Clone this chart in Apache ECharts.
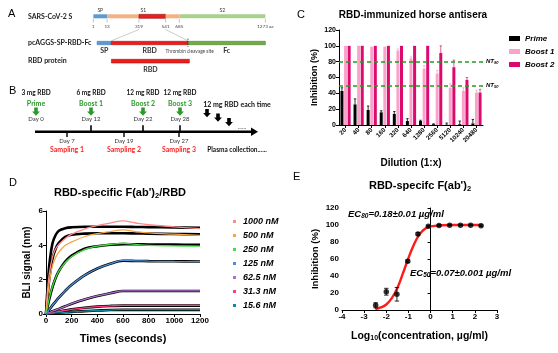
<!DOCTYPE html>
<html>
<head>
<meta charset="utf-8">
<script src="https://cdn.jsdelivr.net/npm/echarts@6/dist/echarts.min.js"></script>
<style>
  html, body { margin: 0; padding: 0; background: #fff; }
  #chart { width: 558px; height: 353px; }
</style>
</head>
<body>
<div id="chart"></div>
<script>
// ---------- Panel A: construct map (schematic units, whole spike = 0..100)
const spikeDomains = ['SP', 'S1', 'RBD', 'S1', 'S2'];
const spikeBounds = [0, 8, 26.5, 42, 50, 100];
const spikeTickLabels = ['1', '13', '319', '541', '685', '1273 aa'];
const spikeTopLabels = [['SP', 0, 8], ['S1', 8, 50], ['S2', 50, 100]];
const constructDomains = ['SP', 'RBD', 'Fc'];
const constructBounds = [2.2, 10.5, 55, 100];
const thrombinSite = 55;
const rbdProtein = [10.5, 55.8];

// ---------- Panel B: immunisation timeline (schematic timeline units)
const boostDoses = ['3 mg RBD', '6 mg RBD', '12 mg RBD', '12 mg RBD'];
const boostNames = ['Prime', 'Boost 1', 'Boost 2', 'Boost 3'];
const boostDays = ['Day 0', 'Day 12', 'Day 22', 'Day 28'];
const boostPos = [36, 91, 143, 180];
const samplingNames = ['Sampling 1', 'Sampling 2', 'Sampling 3'];
const samplingDays = ['Day 7', 'Day 19', 'Day 27'];
const samplingPos = [67, 124, 179];
const extraDosePos = [207, 218, 229];
const timelineSpan = [35, 258];

// ---------- Panel C: neutralisation by dilution
const dilutions = ['20', '40', '80', '160', '320', '640', '1280', '2560', '5120', '10240', '20480'];
const prime = [43, 26, 19, 16, 14, 5, 5, 1, 0.5, 1, 2];
const primeErr = [4, 7, 5, 2, 3, 3, 1, 0.5, 2, 4, 5];
const boost1 = [100, 100, 99, 99, 94, 84, 71, 65, 47, 43, 41];
const boost1Err = [0, 0, 0, 0, 2, 2, 4, 4, 5, 4, 3];
const boost2 = [100, 100, 100, 100, 100, 100, 100, 91, 73, 57, 41];
const boost2Err = [0, 0, 0, 0, 0, 0, 0, 9, 9, 3, 4];
const ntLevels = [80, 50];

// ---------- Panel D: BLI sensorgrams
const bliTimes = [0, 10, 25, 50, 75, 100, 150, 200, 300, 400, 500, 600, 700, 800, 1000, 1200];
const bliConcs = ['1000 nM', '500 nM', '250 nM', '125 nM', '62.5 nM', '31.3 nM', '15.6 nM'];
const bliMeasured = [
  [0, 1.2, 2.3, 3.3, 3.8, 4.05, 4.4, 4.65, 4.95, 5.15, 5.3, 5.42, 5.3, 5.2, 5.08, 4.97],
  [0, 0.8, 1.8, 2.8, 3.3, 3.6, 4.0, 4.2, 4.5, 4.68, 4.8, 4.9, 4.8, 4.72, 4.65, 4.58],
  [0, 0.35, 0.9, 1.6, 2.1, 2.5, 3.0, 3.35, 3.75, 3.95, 4.05, 4.12, 4.05, 4.0, 3.97, 3.95],
  [0, 0.1, 0.25, 0.5, 0.72, 0.95, 1.35, 1.7, 2.25, 2.65, 2.92, 3.12, 3.1, 3.08, 3.06, 3.05],
  [0, 0.03, 0.08, 0.16, 0.23, 0.3, 0.45, 0.6, 0.85, 1.05, 1.21, 1.35, 1.35, 1.35, 1.35, 1.35],
  [0, 0.02, 0.04, 0.07, 0.11, 0.15, 0.21, 0.27, 0.36, 0.43, 0.47, 0.5, 0.5, 0.5, 0.5, 0.5],
  [0, 0.01, 0.02, 0.04, 0.06, 0.07, 0.1, 0.12, 0.17, 0.2, 0.23, 0.25, 0.25, 0.25, 0.25, 0.25]
];
const bliFit = [
  [0, 1.3, 2.8, 4.1, 4.6, 4.85, 5.0, 5.05, 5.08, 5.08, 5.08, 5.08, 5.07, 5.06, 5.04, 5.02],
  [0, 0.9, 2.0, 3.2, 3.8, 4.15, 4.5, 4.62, 4.68, 4.7, 4.7, 4.7, 4.69, 4.68, 4.66, 4.64],
  [0, 0.35, 0.85, 1.55, 2.1, 2.5, 3.05, 3.4, 3.8, 3.95, 4.03, 4.07, 4.06, 4.05, 4.04, 4.03],
  [0, 0.1, 0.25, 0.5, 0.73, 0.95, 1.35, 1.7, 2.25, 2.65, 2.93, 3.1, 3.09, 3.08, 3.07, 3.06],
  [0, 0.03, 0.08, 0.16, 0.23, 0.3, 0.45, 0.6, 0.85, 1.05, 1.21, 1.34, 1.34, 1.34, 1.34, 1.34],
  [0, 0.02, 0.04, 0.07, 0.11, 0.15, 0.21, 0.27, 0.36, 0.43, 0.47, 0.49, 0.49, 0.49, 0.49, 0.49],
  [0, 0.01, 0.02, 0.04, 0.06, 0.07, 0.1, 0.12, 0.17, 0.2, 0.23, 0.24, 0.24, 0.24, 0.24, 0.24]
];

// ---------- Panel E: dose response
const eLogConc = [-2.48, -2.0, -1.52, -1.03, -0.57, -0.1, 0.38, 0.86, 1.35, 1.81, 2.28];
const eInhib = [5.5, 21.5, 18.5, 57.5, 89.5, 98.5, 99.5, 99.8, 99.8, 99.8, 99.2];
const eErr = [3, 4, 8, 1.5, 1.5, 1, 0.8, 0.5, 0.5, 0.5, 0.8];
const eFitX = [-2.5, -2.25, -2.0, -1.75, -1.5, -1.25, -1.0, -0.75, -0.5, -0.25, 0, 0.5, 1, 1.5, 2, 2.3];
const eFitY = [1, 3, 6.5, 14, 26, 43, 61, 77, 89, 95.5, 98.3, 99.7, 100, 100, 100, 100];

// ---------- styles
const F = '"Liberation Sans", Arial, Helvetica, sans-serif';
const FC = 'Lato, "Open Sans", "Liberation Sans", sans-serif';
const domainColor = { SP: '#5b9bd5', S1: '#f4b183', RBD: '#ee1c1c', S2: '#a9d18e', Fc: '#70ad47' };
const bliColors = ['#ff8a8a', '#f7a447', '#3fe03f', '#4a8fd8', '#b36fd6', '#ff3d86', '#13879b'];
const GREEN = '#2a9a2a', RED = '#ff2222';
const BAR_W = 3, BAR_STEP = 3.6;

function kit(api) {
  const c = (x, y) => api.coord([x, y]);
  return {
    rect(x0, x1, y0, y1, fill, stroke) {
      const a = c(x0, y0), b = c(x1, y1);
      return { type: 'rect', shape: { x: a[0], y: a[1], width: b[0] - a[0], height: b[1] - a[1] },
        style: { fill, stroke: stroke || null, lineWidth: 0.6 } };
    },
    line(x0, y0, x1, y1, stroke, w, dash) {
      const a = c(x0, y0), b = c(x1, y1);
      return { type: 'line', shape: { x1: a[0], y1: a[1], x2: b[0], y2: b[1] },
        style: { stroke, lineWidth: w || 0.6, lineDash: dash || null } };
    },
    text(x, y, text, font, fill, align) {
      const a = c(x, y);
      return { type: 'text', x: a[0], y: a[1],
        style: { text, font, fill: fill || '#222', textAlign: align || 'center', textVerticalAlign: 'middle' } };
    },
    arrow(x, y, fill) {
      const p = c(x, y), cx = p[0], cy = p[1];
      return { type: 'polygon', style: { fill },
        shape: { points: [[cx - 1.8, cy - 4], [cx + 1.8, cy - 4], [cx + 1.8, cy], [cx + 3.9, cy], [cx, cy + 4.2], [cx - 3.9, cy], [cx - 1.8, cy]] } };
    },
    poly(pts, fill) {
      return { type: 'polygon', style: { fill }, shape: { points: pts.map(p => c(p[0], p[1])) } };
    }
  };
}

function renderPanelA(params, api) {
  const k = kit(api), ch = [];
  const rowFont = 'bold 7px ' + FC;
  // full-length spike
  for (let i = 0; i < spikeDomains.length; i++) {
    const d = spikeDomains[i];
    ch.push(k.rect(spikeBounds[i], spikeBounds[i + 1], 14.3, 18.3, domainColor[d], d === 'RBD' ? '#8a1c1c' : null));
  }
  spikeTopLabels.forEach(l => ch.push(k.text((l[1] + l[2]) / 2, 10.5, l[0], '5px ' + FC, '#333')));
  spikeBounds.forEach((b, i) => {
    ch.push(k.line(b, 19, b, 22.5, '#888', 0.5));
    ch.push(k.text(b, 26.8, spikeTickLabels[i], '4.6px ' + FC, '#444'));
  });
  // projection of RBD onto construct
  ch.push(k.line(spikeBounds[2], 29.5, constructBounds[1], 40.8, '#aaa', 0.6));
  ch.push(k.line(spikeBounds[3], 29.5, constructBounds[2], 40.8, '#aaa', 0.6));
  // construct
  for (let i = 0; i < constructDomains.length; i++) {
    const d = constructDomains[i];
    ch.push(k.rect(constructBounds[i], constructBounds[i + 1], 41.3, 44.7, domainColor[d],
      d === 'Fc' ? '#4f7f33' : d === 'SP' ? '#3f78ad' : '#a01515'));
    ch.push(k.text((constructBounds[i] + constructBounds[i + 1]) / 2, 50.5, d, 'bold 7px ' + FC, '#333'));
  }
  ch.push(k.line(thrombinSite, 38.5, thrombinSite, 47, '#222', 0.7, [1.5, 1]));
  ch.push(k.text(thrombinSite + 1, 51.2, 'Thrombin cleavage site', '4.8px ' + FC, '#444'));
  // purified RBD protein
  ch.push(k.rect(rbdProtein[0], rbdProtein[1], 59.3, 63, domainColor.RBD, '#a01515'));
  ch.push(k.text((rbdProtein[0] + rbdProtein[1]) / 2, 70, 'RBD', 'bold 7px ' + FC, '#333'));
  // row names
  ch.push(k.text(-38, 16.5, 'SARS-CoV-2 S', rowFont, '#222', 'left'));
  ch.push(k.text(-38, 42.5, 'pcAGGS-SP-RBD-Fc', rowFont, '#222', 'left'));
  ch.push(k.text(-38, 61, 'RBD protein', rowFont, '#222', 'left'));
  return { type: 'group', children: ch };
}

function renderPanelB(params, api) {
  const k = kit(api), ch = [];
  const yLine = 46.7;
  ch.push(k.line(timelineSpan[0], yLine, timelineSpan[1] - 6, yLine, '#000', 2.6));
  ch.push(k.poly([[timelineSpan[1] - 7, yLine - 4.3], [timelineSpan[1], yLine], [timelineSpan[1] - 7, yLine + 4.3]], '#000'));
  boostPos.forEach((x, i) => {
    ch.push(k.text(x, 8.3, boostDoses[i], 'bold 6.5px ' + FC, '#111'));
    ch.push(k.text(x, 19, boostNames[i], 'bold 7px ' + FC, GREEN));
    ch.push(k.arrow(x, 26.5, GREEN));
    ch.push(k.text(x, 34.3, boostDays[i], '6px ' + FC, '#333'));
    if (i > 0) ch.push(k.line(x, 40.3, x, yLine, '#000', 1.6));
  });
  samplingPos.forEach((x, i) => {
    ch.push(k.line(x, yLine, x, 52, '#000', 1.4));
    ch.push(k.text(x, 56.5, samplingDays[i], '6px ' + FC, '#333'));
    ch.push(k.text(x, 65, samplingNames[i], 'bold 7px ' + FC, RED));
  });
  ch.push(k.text(237, 20, '12 mg RBD each time', 'bold 7px ' + FC, '#111'));
  extraDosePos.forEach((x, i) => ch.push(k.arrow(x, 28 + i * 4.5, '#000')));
  ch.push(k.text(242, 42, '......', 'bold 6px ' + FC, '#666'));
  ch.push(k.text(237, 65, 'Plasma collection......', 'bold 6.5px ' + FC, '#111'));
  return { type: 'group', children: ch };
}

function renderErrC(params, api) {
  const i = api.value(0), v = api.value(1), e = api.value(2), s = api.value(3);
  if (!e) return null;
  const off = (s - 1) * BAR_STEP;
  const a = api.coord([i, v]), b = api.coord([i, v + e]);
  const x = a[0] + off;
  const col = ['#000', '#f5a6cc', '#e0307f'][s];
  return { type: 'group', children: [
    { type: 'line', shape: { x1: x, y1: a[1], x2: x, y2: b[1] }, style: { stroke: col, lineWidth: 0.8 } },
    { type: 'line', shape: { x1: x - 1.2, y1: b[1], x2: x + 1.2, y2: b[1] }, style: { stroke: col, lineWidth: 0.8 } }
  ] };
}

function renderErrE(params, api) {
  const x = api.value(0), v = api.value(1), e = api.value(2);
  const lo = api.coord([x, v - e]), hi = api.coord([x, v + e]);
  const st = { stroke: '#111', lineWidth: 0.9 };
  return { type: 'group', children: [
    { type: 'line', shape: { x1: lo[0], y1: lo[1], x2: hi[0], y2: hi[1] }, style: st },
    { type: 'line', shape: { x1: lo[0] - 2.2, y1: lo[1], x2: lo[0] + 2.2, y2: lo[1] }, style: st },
    { type: 'line', shape: { x1: hi[0] - 2.2, y1: hi[1], x2: hi[0] + 2.2, y2: hi[1] }, style: st }
  ] };
}

const axisLbl = (size) => ({ color: '#000', fontFamily: F, fontWeight: 'bold', fontSize: size, margin: 3 });
const axLine = { show: true, lineStyle: { color: '#000', width: 1 } };
const axTick = { show: true, length: 3, lineStyle: { color: '#000', width: 1 } };
const hidden = { show: false };

const chart = echarts.init(document.getElementById('chart'), null, { renderer: 'canvas' });

const subRich = (big, small) => ({
  b: { fontFamily: F, fontWeight: 'bold', fontSize: big, color: '#000' },
  s: { fontFamily: F, fontWeight: 'bold', fontSize: small, color: '#000', padding: [Math.round(big * 0.45), 0, 0, 0] }
});

const ntRich = {
  a: { fontFamily: F, fontWeight: 'bold', fontStyle: 'italic', fontSize: 6, color: '#000' },
  b: { fontFamily: F, fontWeight: 'bold', fontStyle: 'italic', fontSize: 4, color: '#000', padding: [3, 0, 0, 0] }
};

const ecRich = {
  a: { fontFamily: F, fontWeight: 'bold', fontStyle: 'italic', fontSize: 9.5, color: '#000' },
  b: { fontFamily: F, fontWeight: 'bold', fontStyle: 'italic', fontSize: 6.5, color: '#000', padding: [4, 0, 0, 0] }
};

const option = {
  animation: false,
  backgroundColor: '#fff',
  grid: [
    { left: 28, top: 0, width: 258, height: 80, outerBoundsMode: 'none' },
    { left: 0, top: 85, width: 290, height: 75, outerBoundsMode: 'none' },
    { left: 339, top: 30, width: 144, height: 95, outerBoundsMode: 'none' },
    { left: 46, top: 211, width: 154, height: 103, outerBoundsMode: 'none' },
    { left: 342, top: 208, width: 155, height: 102, outerBoundsMode: 'none' }
  ],
  xAxis: [
    { gridIndex: 0, type: 'value', min: -38, max: 112, ...hidden },
    { gridIndex: 1, type: 'value', min: 0, max: 290, ...hidden },
    {
      gridIndex: 2, type: 'category', data: dilutions,
      axisLine: axLine, axisTick: { ...axTick, alignWithLabel: true },
      axisLabel: { ...axisLbl(6.3), rotate: 45, interval: 0, margin: 4 },
      name: 'Dilution (1:x)', nameLocation: 'middle', nameGap: 33,
      nameTextStyle: { fontFamily: F, fontWeight: 'bold', fontSize: 10, color: '#000' }
    },
    {
      gridIndex: 3, type: 'value', min: 0, max: 1200, interval: 200,
      axisLine: axLine, axisTick: axTick, splitLine: hidden,
      axisLabel: { ...axisLbl(8), formatter: v => String(v) },
      name: 'Times (seconds)', nameLocation: 'middle', nameGap: 19,
      nameTextStyle: { fontFamily: F, fontWeight: 'bold', fontSize: 11, color: '#000' }
    },
    {
      gridIndex: 4, type: 'value', min: -4, max: 3, interval: 1,
      axisLine: axLine, axisTick: axTick, splitLine: hidden, axisLabel: axisLbl(8),
      name: '{b|Log}{s|10}{b|(concentration, µg/ml)}', nameLocation: 'middle', nameGap: 20,
      nameTextStyle: { rich: subRich(10.5, 7) }
    }
  ],
  yAxis: [
    { gridIndex: 0, type: 'value', min: 0, max: 80, inverse: true, ...hidden },
    { gridIndex: 1, type: 'value', min: 0, max: 75, inverse: true, ...hidden },
    {
      gridIndex: 2, type: 'value', min: 0, max: 120, interval: 20,
      axisLine: axLine, axisTick: axTick, splitLine: hidden, axisLabel: axisLbl(7),
      name: 'Inhibition (%)', nameLocation: 'middle', nameGap: 20,
      nameTextStyle: { fontFamily: F, fontWeight: 'bold', fontSize: 9, color: '#000' }
    },
    {
      gridIndex: 3, type: 'value', min: 0, max: 6, interval: 2,
      axisLine: axLine, axisTick: axTick, splitLine: hidden, axisLabel: axisLbl(8),
      name: 'BLI signal (nm)', nameLocation: 'middle', nameGap: 14,
      nameTextStyle: { fontFamily: F, fontWeight: 'bold', fontSize: 10, color: '#000' }
    },
    {
      gridIndex: 4, type: 'value', min: 0, max: 120, interval: 20,
      axisLine: axLine, axisTick: axTick, splitLine: hidden, axisLabel: axisLbl(8),
      name: 'Inhibition (%)', nameLocation: 'middle', nameGap: 22,
      nameTextStyle: { fontFamily: F, fontWeight: 'bold', fontSize: 9.5, color: '#000' }
    }
  ],
  legend: [
    {
      data: ['Prime', 'Boost 1', 'Boost 2'], orient: 'vertical', left: 504, top: 29,
      icon: 'rect', itemWidth: 11, itemHeight: 5, itemGap: 4,
      textStyle: { fontFamily: F, fontWeight: 'bold', fontStyle: 'italic', fontSize: 8, color: '#000', lineHeight: 9 }
    },
    {
      data: bliConcs, orient: 'vertical', left: 228, top: 211,
      icon: 'rect', itemWidth: 3, itemHeight: 3, itemGap: 3,
      textStyle: { fontFamily: F, fontWeight: 'bold', fontStyle: 'italic', fontSize: 9, color: '#000', lineHeight: 11, padding: [0, 0, 0, 2] }
    }
  ],
  graphic: [
    { type: 'text', x: 8, y: 8, style: { text: 'A', font: '11px ' + F, fill: '#000' } },
    { type: 'text', x: 9, y: 85, style: { text: 'B', font: '11px ' + F, fill: '#000' } },
    { type: 'text', x: 297, y: 9, style: { text: 'C', font: '11px ' + F, fill: '#000' } },
    { type: 'text', x: 9, y: 177, style: { text: 'D', font: '11px ' + F, fill: '#000' } },
    { type: 'text', x: 293, y: 171, style: { text: 'E', font: '11px ' + F, fill: '#000' } },
    { type: 'text', x: 413, y: 15, style: { text: 'RBD-immunized horse antisera', font: 'bold 10px ' + F, fill: '#000', textAlign: 'center', textVerticalAlign: 'middle' } },
    { type: 'text', x: 120, y: 193, style: { text: "{b|RBD-specific F(ab')}{s|2}{b|/RBD}", rich: subRich(11, 7.5), textAlign: 'center', textVerticalAlign: 'middle' } },
    { type: 'text', x: 420, y: 186, style: { text: "{b|RBD-specifc F(ab')}{s|2}", rich: subRich(11, 7.5), textAlign: 'center', textVerticalAlign: 'middle' } },
    { type: 'text', x: 348, y: 214, style: { text: '{a|EC}{b|80}{a|=0.18±0.01 µg/ml}', rich: ecRich, textAlign: 'left', textVerticalAlign: 'middle' } },
    { type: 'text', x: 410, y: 273, style: { text: '{a|EC}{b|50}{a|=0.07±0.001 µg/ml}', rich: ecRich, textAlign: 'left', textVerticalAlign: 'middle' } }
  ],
  series: [
    { type: 'custom', name: 'mapA', xAxisIndex: 0, yAxisIndex: 0, data: [[0, 0]], renderItem: renderPanelA, silent: true },
    { type: 'custom', name: 'timelineB', xAxisIndex: 1, yAxisIndex: 1, data: [[0, 0]], renderItem: renderPanelB, silent: true },
    { type: 'bar', name: 'Prime', xAxisIndex: 2, yAxisIndex: 2, data: prime, barWidth: BAR_W, barGap: '20%', itemStyle: { color: '#000' } },
    { type: 'bar', name: 'Boost 1', xAxisIndex: 2, yAxisIndex: 2, data: boost1, barWidth: BAR_W, barGap: '20%', itemStyle: { color: '#f9a3cb' } },
    {
      type: 'bar', name: 'Boost 2', xAxisIndex: 2, yAxisIndex: 2, data: boost2, barWidth: BAR_W, barGap: '20%', itemStyle: { color: '#dc0a6f' },
      markLine: {
        silent: true, symbol: ['none', 'none'],
        lineStyle: { color: '#1f9e1f', type: [4, 3], width: 1.6 },
        label: { position: 'end', distance: 3, rich: ntRich },
        data: [
          { yAxis: ntLevels[0], label: { formatter: '{a|NT}{b|90}' } },
          { yAxis: ntLevels[1], label: { formatter: '{a|NT}{b|50}' } }
        ]
      }
    },
    {
      type: 'custom', name: 'errC', xAxisIndex: 2, yAxisIndex: 2, renderItem: renderErrC, z: 3,
      data: [].concat(
        prime.map((v, i) => [i, v, primeErr[i], 0]),
        boost1.map((v, i) => [i, v, boost1Err[i], 1]),
        boost2.map((v, i) => [i, v, boost2Err[i], 2])
      )
    },
    ...bliFit.map((arr, i) => ({
      type: 'line', name: 'fit ' + bliConcs[i], xAxisIndex: 3, yAxisIndex: 3, symbol: 'none', smooth: 0.35,
      data: bliTimes.map((t, j) => [t, arr[j]]),
      lineStyle: { color: '#000', width: 2.6 }, itemStyle: { color: '#000' }, z: 2
    })),
    ...bliMeasured.map((arr, i) => ({
      type: 'line', name: bliConcs[i], xAxisIndex: 3, yAxisIndex: 3, symbol: 'none', smooth: 0.35,
      data: bliTimes.map((t, j) => [t, arr[j]]),
      lineStyle: { color: bliColors[i], width: 1.3 }, itemStyle: { color: bliColors[i] }, z: 3
    })),
    {
      type: 'line', name: 'fitE', xAxisIndex: 4, yAxisIndex: 4, symbol: 'none', smooth: 0.4,
      data: eFitX.map((x, i) => [x, eFitY[i]]), lineStyle: { color: '#ff1a1a', width: 2.4 }, z: 2
    },
    {
      type: 'custom', name: 'errE', xAxisIndex: 4, yAxisIndex: 4, renderItem: renderErrE, z: 3,
      data: eLogConc.map((x, i) => [x, eInhib[i], eErr[i]])
    },
    {
      type: 'scatter', name: 'pointsE', xAxisIndex: 4, yAxisIndex: 4, symbolSize: 5.5, z: 4,
      data: eLogConc.map((x, i) => [x, eInhib[i]]), itemStyle: { color: '#000' }
    }
  ]
};

chart.setOption(option);
</script>
</body>
</html>
